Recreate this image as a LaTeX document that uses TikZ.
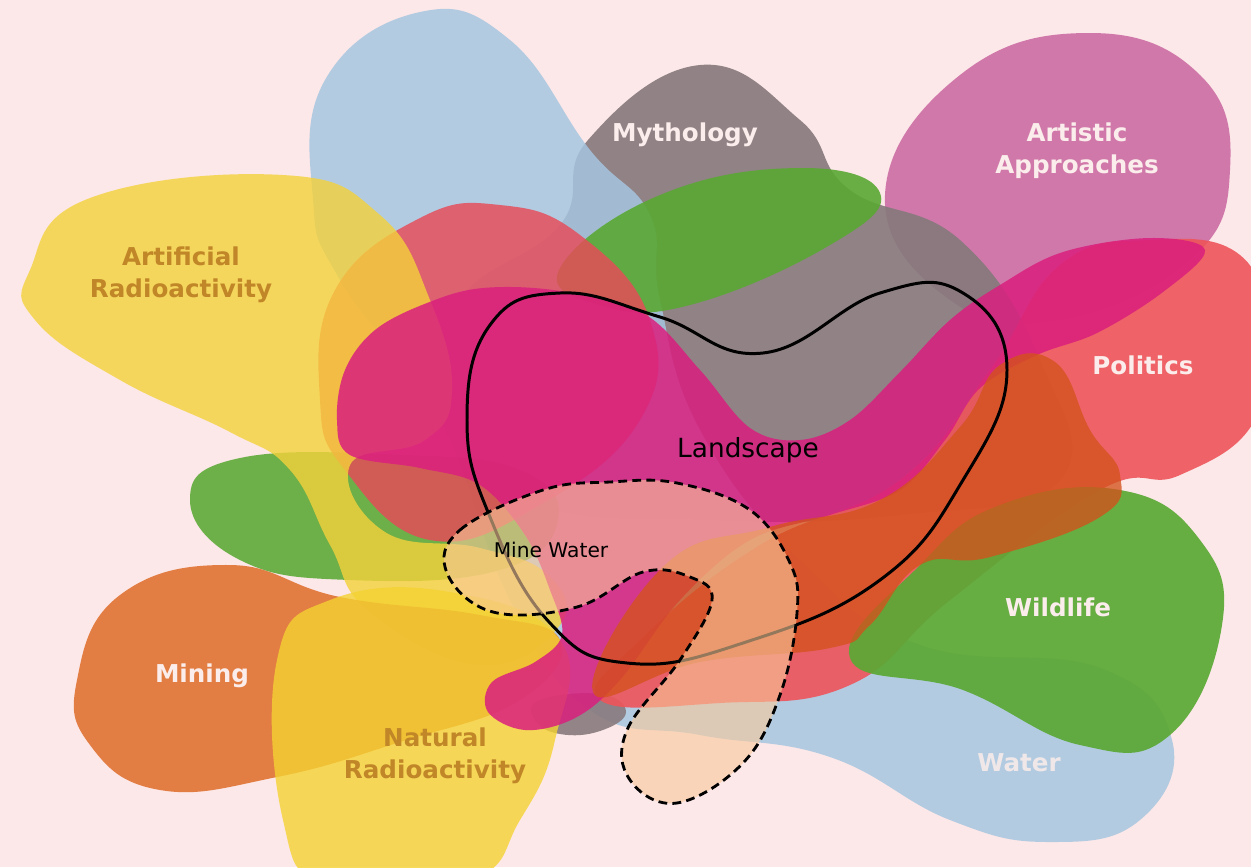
\documentclass[tikz,border=0pt]{standalone}
\usepackage{fontspec}
\setmainfont{DejaVu Sans}
\usepackage{tikz}
\usetikzlibrary{positioning}

\definecolor{bgpink}{HTML}{FCE8E8}
\definecolor{waterblue}{HTML}{A6C6E0}
\definecolor{mythgray}{HTML}{877A7D}
\definecolor{artmauve}{HTML}{CC6CA4}
\definecolor{wildgreen}{HTML}{5AA834}
\definecolor{redblob}{HTML}{E84A58}
\definecolor{artyellow}{HTML}{F4D23A}
\definecolor{polred}{HTML}{EE545A}
\definecolor{hotpink}{HTML}{DA1F7E}
\definecolor{orangeband}{HTML}{D4521C}
\definecolor{miningorange}{HTML}{E07436}
\definecolor{natyellow}{HTML}{F4D232}
\definecolor{peach}{HTML}{F8C89A}
\definecolor{labelgold}{HTML}{C08628}
\definecolor{labelwhite}{HTML}{FBEDEB}

\begin{document}
\begin{tikzpicture}[
    x=0.02cm, y=-0.02cm,
    blob/.style={fill opacity=#1},
    blob/.default=0.85,
    rim/.style={line width=1.7pt, line join=round},
    tag/.style={font=\bfseries\fontsize{14}{18}\selectfont, align=center, text=labelwhite},
    goldtag/.style={tag, text=labelgold}
]
    \useasboundingbox (0,0) rectangle (1251,867);
    \fill[bgpink] (0,0) rectangle (1251,867);

    \begin{scope}[smooth cycle, tension=0.75]
    \clip (0,0) rectangle (1251,867);
    % artistic approaches
    \fill[artmauve, blob=0.9] plot coordinates {
        (885,195) (960,75) (1090,33) (1200,75) (1230,170) (1190,260)
        (1060,320) (950,300)};
    % mythology
    \fill[mythgray, blob=0.92] plot coordinates {
        (588,140) (700,65) (800,120) (850,190) (960,240) (1040,360)
        (1060,480) (900,515) (700,520) (530,500) (450,400) (460,300) (560,225)};
    % water
    \fill[waterblue, blob=0.85] plot coordinates {
        (313,200) (325,80) (420,12) (510,40) (590,150) (650,215) (660,300)
        (700,430) (800,560) (920,645) (1100,668) (1172,740) (1140,820)
        (1050,842) (950,820) (830,757) (700,735) (590,710) (510,600)
        (440,420) (340,280)};
    \fill[mythgray, blob=0.9] plot coordinates {
        (540,700) (600,694) (626,712) (600,731) (560,734) (535,720)};
    % wildlife, left and top
    \fill[wildgreen, blob=0.88] plot coordinates {
        (190,500) (240,458) (400,455) (520,470) (558,520) (500,570)
        (350,580) (240,560)};
    \fill[wildgreen, blob=0.9] plot coordinates {
        (560,268) (660,195) (800,168) (880,193) (830,245) (690,305) (600,305)};
    % unnamed red
    \fill[redblob, blob=0.82] plot coordinates {
        (320,400) (335,290) (420,218) (500,205) (580,235) (650,320)
        (640,420) (540,505) (430,540) (345,470)};
    % artificial radioactivity
    \fill[artyellow, blob=0.8] plot coordinates {
        (30,270) (90,198) (283,175) (380,215) (430,300) (452,390) (425,440)
        (350,465) (385,532) (480,548) (548,575) (560,625) (480,665) (370,612)
        (330,545) (290,470) (230,432) (120,380) (35,320)};
    % mining
    \fill[miningorange, blob=0.92] plot coordinates {
        (77,680) (120,595) (230,565) (340,597) (480,615) (560,640) (520,700)
        (400,742) (277,777) (160,790) (90,745)};
    % natural radioactivity
    \fill[natyellow, blob=0.8] plot coordinates {
        (277,660) (330,600) (450,592) (560,640) (555,740) (520,820)
        (470,880) (330,885) (283,820)};
    % politics
    \fill[polred, blob=0.9] plot coordinates {
        (1150,240) (1240,255) (1262,330) (1255,420) (1180,475) (1100,490)
        (950,600) (850,685) (720,703) (600,700) (640,640) (760,545)
        (900,480) (990,370) (1060,265)};
    % hot pink band
    \fill[hotpink, blob=0.85] plot[tension=0.6] coordinates {
        (1150,238) (1205,250) (1163,292) (1097,333) (1037,355) (980,388)
        (945,440) (900,490) (830,515) (750,540) (680,600) (620,680) (575,718)
        (525,730) (488,712) (492,682) (535,662) (562,635) (550,590) (525,535)
        (480,485) (420,468) (350,455) (337,420) (345,370) (375,330) (427,303)
        (483,288) (560,291) (643,313) (700,370) (750,428) (800,440) (850,420)
        (900,372) (950,320) (1000,285) (1063,252)};
    % wildlife, right
    \fill[wildgreen, blob=0.92] plot coordinates {
        (850,658) (920,565) (1000,505) (1120,490) (1200,540) (1222,625)
        (1170,735) (1080,745) (963,690)};
    % orange band
    \fill[orangeband, blob=0.78] plot coordinates {
        (593,692) (665,565) (770,527) (880,500) (960,427) (1000,365)
        (1055,362) (1090,430) (1120,475) (1100,517) (990,557) (920,565)
        (870,625) (830,648) (700,662)};
    \end{scope}

    % landscape
    \draw[rim] plot[smooth cycle, tension=0.75] coordinates {
        (467,420) (490,325) (560,293) (660,317) (763,353) (880,293) (963,293)
        (1007,370) (963,480) (880,580) (743,643) (627,663) (550,623) (490,517)};

    % mine water
    \begin{scope}[smooth cycle, tension=0.65]
    \fill[peach, blob=0.6] plot coordinates {
        (447,573) (460,530) (543,490) (610,482) (677,483) (750,510) (790,563)
        (797,613) (780,695) (743,763) (677,803) (630,780) (627,730) (680,660)
        (712,600) (690,577) (643,572) (577,607) (493,612)};
    \draw[line width=1.6pt, dash pattern=on 5pt off 3pt] plot coordinates {
        (447,573) (460,530) (543,490) (610,482) (677,483) (750,510) (790,563)
        (797,613) (780,695) (743,763) (677,803) (630,780) (627,730) (680,660)
        (712,600) (690,577) (643,572) (577,607) (493,612)};
    \end{scope}

    \node[tag] (mythology) at (685,135) {Mythology};
    \node[tag] (artistic) at (1077,151) {Artistic\\Approaches};
    \node[goldtag] (artificial) at (181,275) {Artificial\\Radioactivity};
    \node[tag] (politics) at (1143,365) {Politics};
    \node[font=\fontsize{15}{18}\selectfont] (landscape) at (748,450) {Landscape};
    \node[font=\fontsize{11.5}{14}\selectfont] (minewater) at (551,550) {Mine Water};
    \node[tag] (wildlife) at (1058,607) {Wildlife};
    \node[tag] (mining) at (202,676) {Mining};
    \node[goldtag] (natural) at (435,756) {Natural\\Radioactivity};
    \node[tag, text opacity=0.85] (water) at (1019,763) {Water};
\end{tikzpicture}
\end{document}
